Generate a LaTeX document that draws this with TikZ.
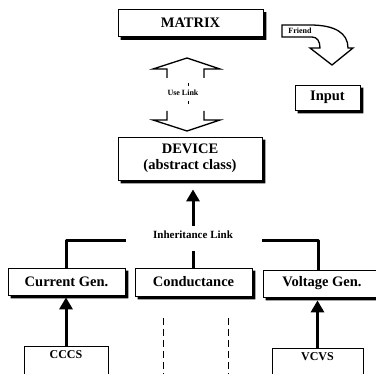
\documentclass[tikz,border=0pt]{standalone}
\usepackage{fontspec}
\setmainfont{Liberation Serif}
\usepackage{tikz}
\usetikzlibrary{arrows.meta,calc}
\newcommand{\boxshadow}[1]{%
  \fill ([shift={(0,3)}]#1.north east) -- ++(3,0) |- ([shift={(3,3)}]#1.south west)
      -- ++(0,-3) -| ([shift={(0,3)}]#1.north east) -- cycle;}

\begin{document}
\begin{tikzpicture}[x=1pt,y=-1pt,
    box/.style={draw, fill=white, line width=0.8pt, inner sep=0pt,
        font=\fontsize{14.5}{16}\selectfont\bfseries},
    leafbox/.style={draw, fill=white, line width=0.8pt, inner sep=4pt, anchor=north,
        font=\fontsize{12}{14}\selectfont\bfseries, text depth=40pt},
    inharrow/.style={line width=3pt, -{Triangle[width=13pt,length=12pt]}},
    inhline/.style={line width=3pt, line join=round},
    hollow/.style={line width=1.3pt, line join=miter}]
     \useasboundingbox (0,0) rectangle (376,374);
     \clip (0,0) rectangle (376,374);

     \node[box, minimum width=145pt, minimum height=27pt] (matrix) at (190.5, 23) {MATRIX};
     \node[box, minimum width=144pt, minimum height=43pt, align=center] (device) at (190, 158.5) {DEVICE\\(abstract class)};
     \node[box, minimum width=65pt, minimum height=25pt] (input) at (327.5, 97.5) {Input};

     \node[box, minimum width=117pt, minimum height=27pt] (curgen) at (66.5, 281.5) {Current Gen.};
     \node[box, minimum width=117pt, minimum height=28pt] (cond) at (193.5, 282) {Conductance};
     \node[box, minimum width=118pt, minimum height=27pt] (volgen) at (322, 283.5) {Voltage Gen.};

     \foreach \b in {matrix, device, input, curgen, cond, volgen}
         \boxshadow{\b};

     \node[leafbox, minimum width=84pt] (cccs) at (66, 346) {CCCS};
     \node[leafbox, minimum width=91pt] (vcvs) at (317.5, 348) {VCVS};

     % use link
     \node[font=\fontsize{8}{9}\selectfont\bfseries, inner sep=1pt] (use) at (183, 93) {Use Link};
     \draw[hollow] (167,78) -- (167,69) -- (153,69) -- (187,58) -- (220,69) -- (204,69) -- (204,78);
     \draw[hollow] (167,111) -- (167,120) -- (153,120) -- (187,131) -- (220,120) -- (204,120) -- (204,111);
     \draw[line width=0.4pt] (188,83) -- (188,86);
     \draw[line width=0.4pt] (188,101) -- (188,104);

     % friend
     \draw[hollow] (282,25) -- (310,25) .. controls (335,25) and (348,33) .. (348,48) -- (353,48)
         -- (332,65) -- (310,48) -- (320,48) .. controls (320,41) and (317,37) .. (312,37) -- (282,37) -- cycle;
     \node[font=\fontsize{8}{9}\selectfont\bfseries, inner sep=0pt] (friend) at (300, 31) {Friend};

     % inheritance link
     \node[font=\fontsize{11}{12}\selectfont\bfseries, inner sep=1pt] (inh) at (193, 235) {Inheritance Link};
     \coordinate (ihl) at (126, 241);
     \coordinate (ihr) at (262, 241);
     \draw[inharrow, shorten <=4pt, shorten >=9pt] (inh.north) -- (inh.north |- device.south);
     \draw[inhline] (curgen.north) |- (ihl);
     \draw[inhline, shorten >=11pt] (cond.north) -- (cond.north |- inh.south);
     \draw[inhline] ([xshift=-4pt]volgen.north) |- (ihr);

     \draw[inharrow, shorten >=2pt] (cccs.north) -- (cccs.north |- curgen.south);
     \draw[inharrow, shorten >=3pt] (vcvs.north) -- (vcvs.north |- volgen.south);

     % further subclasses
     \coordinate (dl) at (163, 318);
     \coordinate (dr) at (228, 318);
     \draw[line width=0.8pt, dash pattern=on 7pt off 4pt] (dl) -- ++(0, 60);
     \draw[line width=0.8pt, dash pattern=on 7pt off 4pt] (dr) -- ++(0, 60);
\end{tikzpicture}
\end{document}
